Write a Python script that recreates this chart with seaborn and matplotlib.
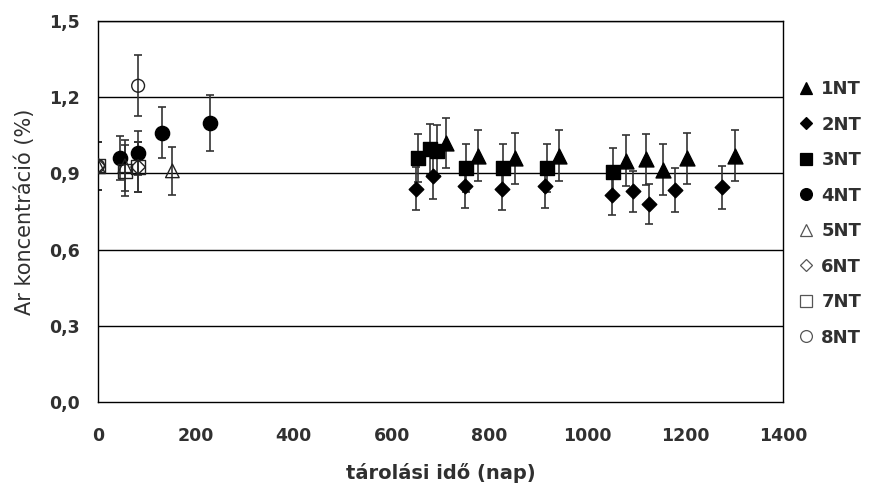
import matplotlib
matplotlib.use("Agg")
import matplotlib.pyplot as plt
import seaborn as sns
import numpy as np
import pandas as pd
from matplotlib.ticker import FuncFormatter

# ---- data ----
series_names = ["1NT", "2NT", "3NT", "4NT", "5NT", "6NT", "7NT", "8NT"]

days_1NT = [712, 777, 852, 943, 1079, 1121, 1155, 1203, 1302]
vals_1NT = [1.02, 0.97, 0.96, 0.97, 0.95, 0.955, 0.915, 0.96, 0.97]
err_1NT = [0.10, 0.10, 0.10, 0.10, 0.10, 0.10, 0.10, 0.10, 0.10]

days_2NT = [649, 685, 750, 825, 914, 1050, 1094, 1127, 1179, 1275]
vals_2NT = [0.84, 0.89, 0.85, 0.84, 0.85, 0.815, 0.83, 0.78, 0.835, 0.845]
err_2NT = [0.085, 0.09, 0.085, 0.085, 0.085, 0.08, 0.08, 0.08, 0.085, 0.085]

days_3NT = [653, 679, 692, 753, 828, 918, 1052]
vals_3NT = [0.96, 0.995, 0.99, 0.92, 0.92, 0.92, 0.905]
err_3NT = [0.095, 0.10, 0.10, 0.095, 0.095, 0.095, 0.095]

days_4NT = [45, 82, 131, 229]
vals_4NT = [0.96, 0.98, 1.06, 1.10]
err_4NT = [0.087, 0.085, 0.10, 0.11]

days_5NT = [0, 55, 152]
vals_5NT = [0.93, 0.93, 0.91]
err_5NT = [0.095, 0.10, 0.095]

days_6NT = [0, 82]
vals_6NT = [0.93, 0.925]
err_6NT = [0.095, 0.097]

days_7NT = [0, 55, 82]
vals_7NT = [0.93, 0.91, 0.925]
err_7NT = [0.095, 0.10, 0.097]

days_8NT = [0, 82]
vals_8NT = [0.93, 1.245]
err_8NT = [0.095, 0.12]

x_ticks = [0, 200, 400, 600, 800, 1000, 1200, 1400]
y_ticks = [0.0, 0.3, 0.6, 0.9, 1.2, 1.5]

all_days = [days_1NT, days_2NT, days_3NT, days_4NT, days_5NT, days_6NT, days_7NT, days_8NT]
all_vals = [vals_1NT, vals_2NT, vals_3NT, vals_4NT, vals_5NT, vals_6NT, vals_7NT, vals_8NT]
all_errs = [err_1NT, err_2NT, err_3NT, err_4NT, err_5NT, err_6NT, err_7NT, err_8NT]

frames = []
for name, d, v, e in zip(series_names, all_days, all_vals, all_errs):
    frames.append(pd.DataFrame({"series": name, "day": d, "val": v, "err": e}))
df = pd.concat(frames, ignore_index=True)

# ---- styles ----
markers = {"1NT": "^", "2NT": "D", "3NT": "s", "4NT": "o",
           "5NT": "^", "6NT": "D", "7NT": "s", "8NT": "o"}
filled = {"1NT": True, "2NT": True, "3NT": True, "4NT": True,
          "5NT": False, "6NT": False, "7NT": False, "8NT": False}
sizes = {"^": 115, "D": 55, "s": 90, "o": 105}
open_sizes = {"^": 95, "D": 55, "s": 95, "o": 85}
leg_sizes = {"^": 9, "D": 6.5, "s": 8, "o": 8.5}

sns.set_theme(style="white")
plt.rcParams["font.family"] = ["DejaVu Sans"]
TXT = "#303030"

fig = plt.figure(figsize=(8.77, 4.91), dpi=100)
ax = fig.add_axes([98 / 877, 1 - 402 / 491, 685 / 877, 381 / 491])

# horizontal grid lines
for yv in y_ticks[1:]:
    ax.axhline(yv, color="black", linewidth=1.0, zorder=1)

# error bars
for name in series_names:
    sub = df[df["series"] == name]
    ax.errorbar(sub["day"], sub["val"], yerr=sub["err"], fmt="none",
                ecolor="#333333", elinewidth=1.2, capsize=3, capthick=1.2, zorder=2)

# markers
handles = []
for name in series_names:
    sub = df[df["series"] == name]
    m = markers[name]
    if filled[name]:
        sns.scatterplot(data=sub, x="day", y="val", marker=m, s=sizes[m],
                        color="black", edgecolor="black", linewidth=1,
                        ax=ax, zorder=3, legend=False)
    else:
        sns.scatterplot(data=sub, x="day", y="val", marker=m, s=open_sizes[m],
                        color="black", facecolor="none", edgecolor="#222222",
                        linewidth=1.0, ax=ax, zorder=4, legend=False)
    h = plt.Line2D([], [], linestyle="none", marker=m,
                   markersize=leg_sizes[m],
                   markerfacecolor="black" if filled[name] else "white",
                   markeredgecolor="black" if filled[name] else "#555555",
                   markeredgewidth=0.9, label=name)
    handles.append(h)

ax.set_xlim(0, 1400)
ax.set_ylim(0, 1.5)
ax.set_xticks(x_ticks)
ax.set_yticks(y_ticks)
ax.yaxis.set_major_formatter(FuncFormatter(lambda v, p: f"{v:.1f}".replace(".", ",")))

for s in ["left", "bottom", "right", "top"]:
    ax.spines[s].set_visible(True)
    ax.spines[s].set_color("black")
    ax.spines[s].set_linewidth(1.0)

ax.tick_params(axis="both", direction="out", length=6, width=1, color="black",
               labelsize=12.5, labelcolor=TXT)
ax.tick_params(axis="x", pad=12)
ax.tick_params(axis="y", pad=7)
for lbl in ax.get_xticklabels() + ax.get_yticklabels():
    lbl.set_fontweight("bold")

ax.set_xlabel("tárolási idő (nap)", fontsize=14, color=TXT, fontweight="bold")
ax.set_ylabel("Ar koncentráció (%)", fontsize=15, color=TXT, fontweight="normal")
ax.xaxis.set_label_coords(0.5, -0.186)
ax.yaxis.set_label_coords(-0.1065, 0.5)
ax.xaxis.label.set_va("center")
ax.yaxis.label.set_va("center")

leg = fig.legend(handles=handles, loc="upper left",
                 bbox_to_anchor=(797 / 877, 1 - 80 / 491),
                 frameon=False, fontsize=13, labelspacing=0.97,
                 handlelength=1.0, handletextpad=0.35, borderaxespad=0,
                 borderpad=0)
for t in leg.get_texts():
    t.set_fontweight("bold")
    t.set_color(TXT)

fig.savefig("out.png", dpi=100)
